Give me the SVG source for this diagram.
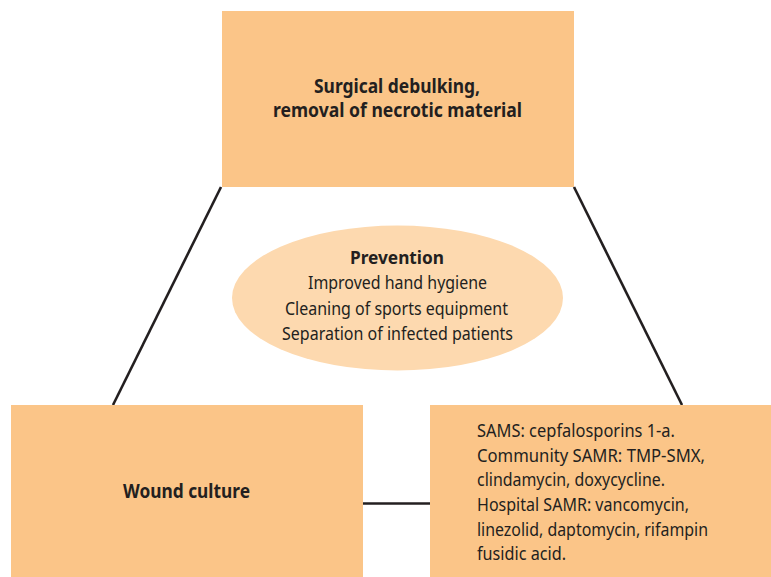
<svg xmlns="http://www.w3.org/2000/svg" width="771" height="577" viewBox="0 0 771 577">
<style>
.box{fill:#FBC588;}
.ell{fill:#FDD9AF;}
.conn{stroke:#231F20;stroke-width:2.6;fill:none;}
text{font-family:"Noto Sans","Liberation Sans",sans-serif;fill:#231F20;}
.b{font-weight:bold;font-size:19px;}
.r{font-size:18.5px;}
</style>
<rect width="771" height="577" fill="#FFFFFF"/>
<g id="connectors">
<line class="conn" x1="221" y1="187" x2="113" y2="405"/>
<line class="conn" x1="574" y1="187" x2="682" y2="405"/>
<line class="conn" x1="362" y1="503.5" x2="431" y2="503.5"/>
</g>
<g id="node-surgical">
<rect class="box" x="222" y="11" width="352" height="176"/>
<text class="b" x="397" y="93" text-anchor="middle" textLength="166" lengthAdjust="spacingAndGlyphs">Surgical debulking,</text>
<text class="b" x="397.5" y="117" text-anchor="middle" textLength="249" lengthAdjust="spacingAndGlyphs">removal of necrotic material</text>
</g>
<g id="node-prevention">
<ellipse class="ell" cx="397.5" cy="298" rx="165.5" ry="72.5"/>
<text class="b" x="397" y="264" text-anchor="middle" textLength="94" lengthAdjust="spacingAndGlyphs" style="font-size:18px">Prevention</text>
<text class="r" x="397.5" y="289" text-anchor="middle" textLength="179" lengthAdjust="spacingAndGlyphs">Improved hand hygiene</text>
<text class="r" x="396.5" y="315" text-anchor="middle" textLength="223" lengthAdjust="spacingAndGlyphs">Cleaning of sports equipment</text>
<text class="r" x="397.5" y="340" text-anchor="middle" textLength="231" lengthAdjust="spacingAndGlyphs">Separation of infected patients</text>
</g>
<g id="node-wound">
<rect class="box" x="11" y="405" width="352" height="172"/>
<text class="b" x="186.5" y="498" text-anchor="middle" textLength="127" lengthAdjust="spacingAndGlyphs">Wound culture</text>
</g>
<g id="node-treatment">
<rect class="box" x="430" y="405" width="341" height="172"/>
<text class="r" x="477" y="437" textLength="198" lengthAdjust="spacingAndGlyphs">SAMS: cepfalosporins 1-a.</text>
<text class="r" x="477" y="462" textLength="228" lengthAdjust="spacingAndGlyphs">Community SAMR: TMP-SMX,</text>
<text class="r" x="477" y="486" textLength="188" lengthAdjust="spacingAndGlyphs">clindamycin, doxycycline.</text>
<text class="r" x="477" y="511" textLength="212" lengthAdjust="spacingAndGlyphs">Hospital SAMR: vancomycin,</text>
<text class="r" x="477" y="536" textLength="231" lengthAdjust="spacingAndGlyphs">linezolid, daptomycin, rifampin</text>
<text class="r" x="477" y="560" textLength="89" lengthAdjust="spacingAndGlyphs">fusidic acid.</text>
</g>
</svg>
